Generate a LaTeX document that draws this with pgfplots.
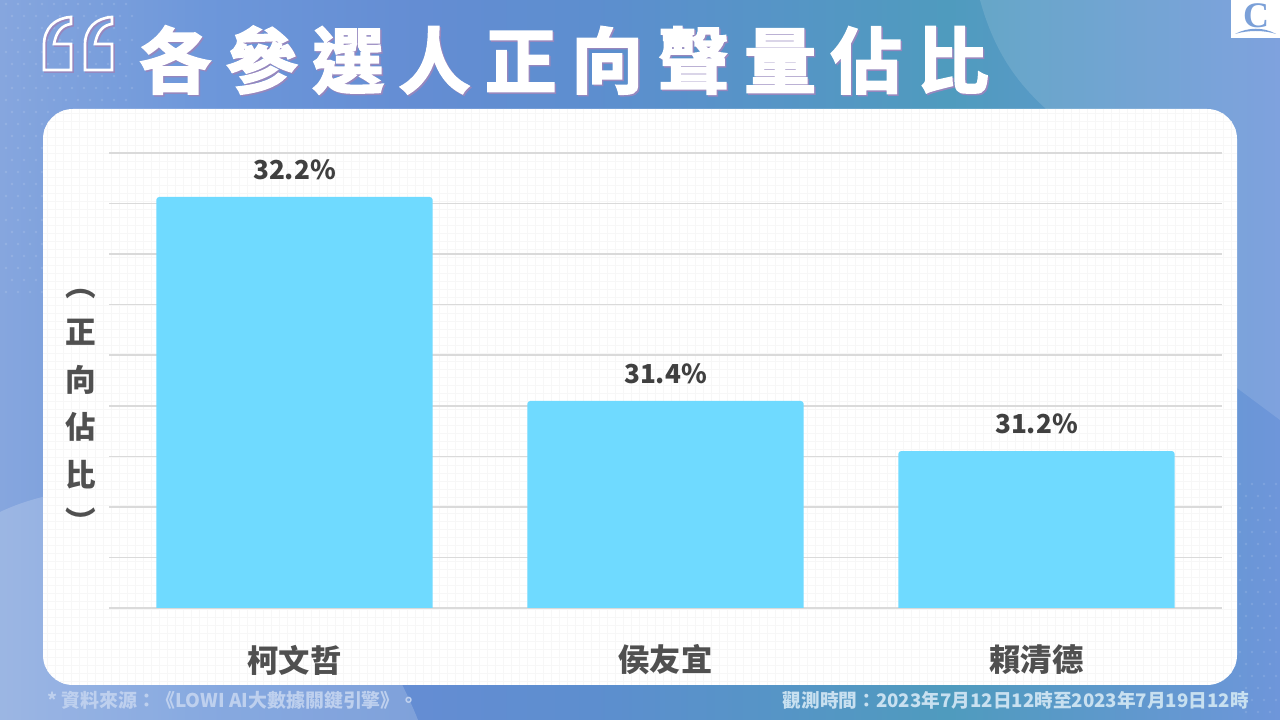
\documentclass[border=0pt]{standalone}
\usepackage{pgfplots}
\usepackage{fontspec}
\pgfplotsset{compat=1.18}
\setmainfont{Noto Sans CJK TC}
\newfontfamily\titlefont[FakeBold=2.5]{Noto Sans CJK TC Bold}
\newfontfamily\logofont{Liberation Serif}
\definecolor{barcol}{HTML}{6FDAFF}
\definecolor{lab}{HTML}{505050}
\definecolor{val}{HTML}{404040}
\definecolor{gridc}{HTML}{DADADA}
\definecolor{fine}{HTML}{F7F7F7}
\definecolor{shq}{RGB}{150,135,190}
\definecolor{logoc}{RGB}{123,160,216}
\definecolor{footl}{RGB}{190,208,238}
\definecolor{footr}{RGB}{200,224,240}
\definecolor{bg0}{RGB}{134,166,222}
\definecolor{bg1}{RGB}{109,151,218}
\definecolor{bg2}{RGB}{100,141,211}
\definecolor{bg3}{RGB}{93,142,207}
\definecolor{bg4}{RGB}{79,155,190}
\definecolor{bg5}{RGB}{110,150,218}
\newcommand{\tk}{\kern 10.8pt}
\newcommand{\qpath}{(44,70)--(44,45) .. controls (44,28) and (55,18) .. (71,17)--(71,24) .. controls (62,25) and (56,32) .. (54,44)--(71,44)--(71,70)--cycle}
\begin{document}
\begin{tikzpicture}
\path[use as bounding box] (0,0) rectangle (960pt,540pt);
\clip (0,0) rectangle (960pt,540pt);
\begin{scope}[x=0.75pt,y=-0.75pt,yshift=540pt]
 \shade[left color=bg0,right color=bg1] (0,0) rectangle (205.5,720);
 \shade[left color=bg1,right color=bg2] (205,0) rectangle (420.5,720);
 \shade[left color=bg2,right color=bg3] (420,0) rectangle (590.5,720);
 \shade[left color=bg3,right color=bg4] (590,0) rectangle (950.5,720);
 \shade[left color=bg4,right color=bg5] (950,0) rectangle (1280,720);
 % translucent background shapes
 \fill[white,opacity=0.12] (980,0) .. controls (995,55) and (1020,85) .. (1045,108) -- (1237,388) -- (1280,420) -- (1280,0) -- cycle;
 \fill[white,opacity=0.18] (0,512) .. controls (120,455) and (330,500) .. (418,720) -- (0,720) -- cycle;
 % dot patterns
 \foreach \i in {0,...,10}{\foreach \j in {0,...,24}{
   \fill[white,opacity=0.13] ({6+12*\i+6*mod(\j,2)},{4+12*\j}) circle [radius=1.3];}}
 \foreach \i in {0,...,3}{\foreach \j in {0,...,20}{
   \fill[white,opacity=0.12] ({1240+12*\i+6*mod(\j,2)},{484+12*\j}) circle [radius=1.3];}}
 % card
 \fill[white,rounded corners=22.5pt] (43,109) rectangle (1237,685);
 \begin{scope}
  \clip[rounded corners=22.5pt] (43,109) rectangle (1237,685);
  \foreach \x in {47,55,...,1235}{\draw[fine,line width=0.35pt] (\x,109) -- (\x,685);}
  \foreach \y in {113,121,...,685}{\draw[fine,line width=0.35pt] (43,\y) -- (1237,\y);}
 \end{scope}
 % quote marks
 \draw[shq,line width=2pt,shift={(1.5,1.5)}] \qpath;
 \draw[shq,line width=2pt,shift={(42.5,1.5)}] \qpath;
 \draw[white,line width=2pt] \qpath;
 \draw[white,line width=2pt,shift={(41,0)}] \qpath;
 % title
 \node[anchor=west,inner sep=0pt,text=shq] at (140.5,61.5)
  {\titlefont\fontsize{54}{58}\selectfont 各\tk 參\tk 選\tk 人\tk 正\tk 向\tk 聲\tk 量\tk 佔\tk 比};
 \node[anchor=west,inner sep=0pt,text=white] at (139,60)
  {\titlefont\fontsize{54}{58}\selectfont 各\tk 參\tk 選\tk 人\tk 正\tk 向\tk 聲\tk 量\tk 佔\tk 比};
 % logo
 \fill[white] (1231,0) rectangle (1280,38);
 \node[inner sep=0pt,text=logoc] at (1256,16)
  {\logofont\bfseries\fontsize{27}{27}\selectfont C};
 \fill[logoc] (1235,34) .. controls (1248,27) and (1264,27) .. (1276,34) .. controls (1264,30) and (1248,30) .. (1235,34) -- cycle;
 % footer
 \node[anchor=west,inner sep=0pt,text=footl] at (47,700)
  {\bfseries\fontsize{14.2}{15}\selectfont * 資料來源：《LOWI AI大數據關鍵引擎》。};
 \node[anchor=east,inner sep=0pt,text=footr] at (1249,700)
  {\bfseries\fontsize{14}{15}\selectfont 觀測時間：2023年7月12日12時至2023年7月19日12時};
\end{scope}
\begin{axis}[
  at={(81.75pt,74.52pt)},anchor=south west,
  width=834.75pt,height=350.73pt,scale only axis,
  xmin=-0.5,xmax=2.5,ymin=30.55,ymax=32.4,
  axis line style={draw=none},major tick length=0pt,
  xtick={0,1,2},xticklabels={柯文哲,侯友宜,賴清德},
  xticklabel style={anchor=center,yshift=-29.5pt,text=lab,font=\bfseries\fontsize{23.5}{25}\selectfont},
  ytick={30.6,30.8,31.0,31.2,31.4,31.6,31.8,32.0,32.2,32.4},yticklabels={},
  ymajorgrids,grid style={gridc,line width=1.1pt},
  ylabel={︵\\正\\向\\佔\\比\\︶},
  ylabel style={rotate=-90,anchor=center,align=center,text=lab,
    font=\bfseries\fontsize{23}{35.6}\selectfont,
    at={(axis description cs:-0.0255,0.4475)}},
  ybar,bar width=0.745,
]
\clip (axis cs:-0.5,30.6) rectangle (axis cs:2.5,32.4);
\addplot[fill=barcol,draw=none,rounded corners=2.25pt,
  point meta=y,
  nodes near coords={\pgfmathprintnumber[fixed,precision=1,assume math mode=true]{\pgfplotspointmeta}\%},
  nodes near coords align={anchor=center,yshift=20.5pt},
  every node near coord/.append style={text=val,font=\bfseries\fontsize{19.6}{22}\selectfont}]
 coordinates {(0,32.226) (1,31.419) (2,31.221)};
\end{axis}
\end{tikzpicture}
\end{document}
